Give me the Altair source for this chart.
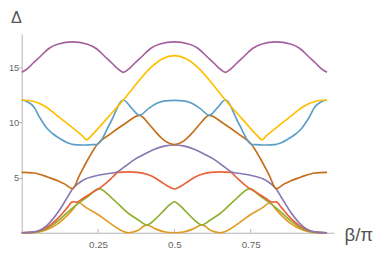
import altair as alt
import pandas as pd

# --- data (beta/pi, Delta) ---
B2 = [0, 0.04, 0.08, 0.12, 0.15, 0.17, 0.187, 0.21, 0.25, 0.29, 0.32, 0.35, 0.38, 0.41, 0.44, 0.47, 0.5,
      0.53, 0.56, 0.59, 0.62, 0.65, 0.68, 0.71, 0.75, 0.79, 0.813, 0.83, 0.85, 0.88, 0.92, 0.96, 1.0]
V2 = [0, 0.03, 0.25, 0.85, 1.6, 2.2, 2.72, 2.3, 1.65, 0.85, 0.3, 0.0, 0.2, 0.72, 0.33, 0.07, 0.0,
      0.07, 0.33, 0.72, 0.2, 0.0, 0.3, 0.85, 1.65, 2.3, 2.72, 2.2, 1.6, 0.85, 0.25, 0.03, 0]

B3 = [0, 0.04, 0.08, 0.12, 0.16, 0.19, 0.22, 0.253, 0.297, 0.349, 0.38, 0.41, 0.44, 0.465, 0.485, 0.5,
      0.515, 0.535, 0.56, 0.59, 0.62, 0.651, 0.703, 0.747, 0.78, 0.81, 0.84, 0.88, 0.92, 0.96, 1.0]
V3 = [0, 0.04, 0.35, 1.1, 2.1, 2.75, 3.35, 4.0, 3.1, 1.77, 1.2, 0.72, 1.3, 2.0, 2.55, 2.81,
      2.55, 2.0, 1.3, 0.72, 1.2, 1.77, 3.1, 4.0, 3.35, 2.75, 2.1, 1.1, 0.35, 0.04, 0]

B4 = [0, 0.04, 0.08, 0.12, 0.15, 0.166, 0.18, 0.2, 0.225, 0.253, 0.28, 0.3, 0.315, 0.35, 0.38, 0.41, 0.433, 0.455, 0.475, 0.49, 0.5,
      0.51, 0.525, 0.545, 0.567, 0.59, 0.62, 0.65, 0.685, 0.7, 0.72, 0.747, 0.775, 0.8, 0.82, 0.834, 0.85, 0.88, 0.92, 0.96, 1.0]
V4 = [0, 0.06, 0.45, 1.35, 2.3, 2.8, 2.78, 3.1, 3.55, 4.0, 4.6, 5.1, 5.47, 5.52, 5.47, 5.3, 5.03, 4.65, 4.28, 4.05, 3.97,
      4.05, 4.28, 4.65, 5.03, 5.3, 5.47, 5.52, 5.47, 5.1, 4.6, 4.0, 3.55, 3.1, 2.78, 2.8, 2.3, 1.35, 0.45, 0.06, 0]

B5 = [0, 0.04, 0.08, 0.12, 0.145, 0.167, 0.2, 0.244, 0.28, 0.312, 0.34, 0.37, 0.4, 0.433, 0.467, 0.5,
      0.533, 0.567, 0.6, 0.63, 0.66, 0.688, 0.72, 0.756, 0.8, 0.833, 0.855, 0.88, 0.92, 0.96, 1.0]
V5 = [0, 0.08, 0.6, 1.9, 3.0, 4.0, 4.75, 5.17, 5.35, 5.5, 6.05, 6.65, 7.1, 7.54, 7.85, 7.95,
      7.85, 7.54, 7.1, 6.65, 6.05, 5.5, 5.35, 5.17, 4.75, 4.0, 3.0, 1.9, 0.6, 0.08, 0]

B6 = [0, 0.04, 0.087, 0.12, 0.14, 0.166, 0.19, 0.22, 0.247, 0.286, 0.339, 0.386, 0.415, 0.443, 0.47, 0.5,
      0.53, 0.557, 0.585, 0.614, 0.661, 0.714, 0.753, 0.78, 0.81, 0.834, 0.86, 0.88, 0.913, 0.96, 1.0]
V6 = [5.47, 5.42, 5.03, 4.7, 4.43, 4.0, 5.25, 6.8, 8.0, 8.87, 9.9, 10.64, 9.9, 9.0, 8.3, 8.0,
      8.3, 9.0, 9.9, 10.64, 9.9, 8.87, 8.0, 6.8, 5.25, 4.0, 4.43, 4.7, 5.03, 5.42, 5.47]

B7 = [0, 0.02, 0.04, 0.06, 0.082, 0.103, 0.13, 0.15, 0.171, 0.2, 0.23, 0.247, 0.29, 0.333, 0.36, 0.386, 0.415, 0.443, 0.47, 0.5,
      0.53, 0.557, 0.585, 0.614, 0.64, 0.667, 0.71, 0.753, 0.77, 0.8, 0.829, 0.85, 0.87, 0.897, 0.918, 0.94, 0.96, 0.98, 1.0]
V7 = [12.03, 11.85, 11.4, 10.4, 9.5, 8.95, 8.45, 8.15, 7.98, 7.95, 7.98, 8.0, 9.95, 12.03, 11.3, 10.64, 11.25, 11.73, 11.95, 12.0,
      11.95, 11.73, 11.25, 10.64, 11.3, 12.03, 9.95, 8.0, 7.98, 7.95, 7.98, 8.15, 8.45, 8.95, 9.5, 10.4, 11.4, 11.85, 12.03]

B8 = [0, 0.04, 0.08, 0.108, 0.14, 0.176, 0.2, 0.212, 0.23, 0.255, 0.29, 0.333, 0.37, 0.42, 0.46, 0.5,
      0.54, 0.58, 0.63, 0.667, 0.71, 0.745, 0.77, 0.788, 0.8, 0.824, 0.86, 0.892, 0.92, 0.96, 1.0]
V8 = [12.03, 11.9, 11.4, 10.8, 10.1, 9.3, 8.75, 8.42, 8.85, 9.6, 10.7, 12.03, 13.3, 14.9, 15.75, 16.05,
      15.75, 14.9, 13.3, 12.03, 10.7, 9.6, 8.85, 8.42, 8.75, 9.3, 10.1, 10.8, 11.4, 11.9, 12.03]

B9 = [0, 0.02, 0.037, 0.06, 0.089, 0.12, 0.1667, 0.213, 0.244, 0.273, 0.296, 0.313, 0.3333,
      0.353, 0.37, 0.393, 0.422, 0.453, 0.5, 0.547, 0.578, 0.607, 0.63, 0.647, 0.6667,
      0.687, 0.704, 0.727, 0.756, 0.787, 0.8333, 0.88, 0.911, 0.94, 0.963, 0.98, 1.0]
V9 = [14.54, 14.9, 15.36, 15.95, 16.7, 17.1, 17.29, 17.1, 16.7, 15.95, 15.36, 14.9, 14.54,
      14.9, 15.36, 15.95, 16.7, 17.1, 17.29, 17.1, 16.7, 15.95, 15.36, 14.9, 14.54,
      14.9, 15.36, 15.95, 16.7, 17.1, 17.29, 17.1, 16.7, 15.95, 15.36, 14.9, 14.54]

SERIES = ["c2", "c3", "c4", "c5", "c6", "c7", "c8", "c9"]
COLORS = ["#E19C24", "#8FB032", "#EB6235", "#8778B3", "#C56E1A", "#5D9EC7", "#FFBF00", "#A5609D"]
X_TICKS = [0.25, 0.5, 0.75]
Y_TICKS = [5, 10, 15]

pairs = [(B2, V2), (B3, V3), (B4, V4), (B5, V5), (B6, V6), (B7, V7), (B8, V8), (B9, V9)]
rows = []
for name, (bs, vs) in zip(SERIES, pairs):
    for b, v in zip(bs, vs):
        rows.append({"s": name, "beta": b, "delta": v})
df = pd.DataFrame(rows)
ticks_df = pd.DataFrame({"beta": X_TICKS})

W, H = 319, 203
AX = "#b3b3b3"
LAB = "#666666"
xs = alt.Scale(domain=[0, 1.0224], nice=False, zero=False)
ys = alt.Scale(domain=[0, 18], nice=False)

x_axis = alt.Axis(
    values=X_TICKS, labelExpr="'' + datum.value", ticks=False, labelPadding=7, grid=False,
    domainColor=AX, labelColor=LAB, labelFontSize=10, labelFont="Liberation Sans",
    title="β/π", titleX=344, titleY=8, titleAlign="center", titleBaseline="alphabetic",
    titleFontSize=19, titleFontWeight="normal", titleColor="#555555", titleFont="Liberation Sans")

y_axis = alt.Axis(
    values=Y_TICKS, tickSize=3, labelPadding=0, grid=False, tickColor=AX,
    domainColor=AX, labelColor=LAB, labelFontSize=9.5, labelFont="Liberation Sans",
    title="Δ", titleAngle=0, titleX=-6, titleY=-11.5, titleAlign="center",
    titleBaseline="alphabetic", titleFontSize=16.5, titleFontWeight="normal",
    titleColor="#555555", titleFont="Liberation Sans")

lines = alt.Chart(df).mark_line(strokeWidth=1.7, interpolate="monotone").encode(
    x=alt.X("beta:Q", scale=xs, axis=x_axis),
    y=alt.Y("delta:Q", scale=ys, axis=y_axis),
    color=alt.Color("s:N", scale=alt.Scale(domain=SERIES, range=COLORS), legend=None),
)

xticks = alt.Chart(ticks_df).mark_rule(color=AX, strokeWidth=1).encode(
    x=alt.X("beta:Q", scale=xs),
    y=alt.value(H),
    y2=alt.value(H - 4),
)

chart = alt.layer(lines, xticks).properties(
    width=W, height=H,
    autosize=alt.AutoSizeParams(type="none"),
    padding={"left": 14, "top": 24, "right": 41, "bottom": 19},
).configure_view(strokeWidth=0)

chart.save("out.html", embed_options={"renderer": "svg", "actions": False})
